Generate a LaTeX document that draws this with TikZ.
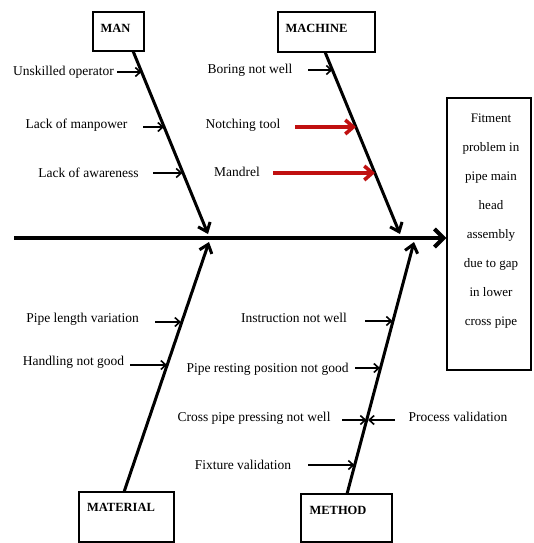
\documentclass[tikz,border=0pt]{standalone}
\usepackage{fontspec}
\setmainfont{Liberation Serif}
\usetikzlibrary{arrows.meta,calc}
\definecolor{arrowred}{RGB}{192,16,16}
\begin{document}
\begin{tikzpicture}[x=1pt,y=-1pt,
  lbl/.style={inner sep=0pt, font=\fontsize{13.5}{15}\selectfont},
  catlbl/.style={inner sep=0pt, font=\bfseries\fontsize{12.5}{14}\selectfont},
  catbox/.style={draw, line width=1.2pt, inner sep=0pt},
  spine/.style={line width=4pt, -{Straight Barb[length=9pt,width=18pt]}},
  bone/.style={line width=3pt, -{Straight Barb[length=8pt,width=13pt]}},
  sub/.style={line width=1.6pt, -{Straight Barb[length=5pt,width=9pt]}},
  redsub/.style={line width=3.6pt, draw=arrowred, -{Straight Barb[length=8pt,width=14pt]}}]
\useasboundingbox (0,0) rectangle (533,543);

% category boxes
\node[catbox, minimum width=51pt, minimum height=39pt] (man) at (118.5,31.5) {};
\node[catlbl] (manl) at (115.5,28) {MAN};
\node[catbox, minimum width=97pt, minimum height=40pt] (machine) at (326.5,32) {};
\node[catlbl] (machinel) at (316.5,28) {MACHINE};
\node[catbox, minimum width=95pt, minimum height=50pt] (material) at (126.5,517) {};
\node[catlbl] (materiall) at (121,507) {MATERIAL};
\node[catbox, minimum width=91pt, minimum height=48pt] (method) at (346.5,518) {};
\node[catlbl] (methodl) at (338,510) {METHOD};

% effect box
\node[draw, line width=1.4pt, minimum width=84pt, minimum height=272pt, inner sep=0pt] (effect) at (489,234) {};
\node[inner sep=0pt, align=center, font=\fontsize{13}{29}\selectfont] (effectl) at (491,221)
  {Fitment\\problem in\\pipe main\\head\\assembly\\due to gap\\in lower\\cross pipe};

% spine
\coordinate (tail) at (14,238);
\draw[spine] (tail) -- (tail -| effect.west);

% bones
\coordinate (manb) at (133,51);
\coordinate (mant) at (208,234);
\coordinate (machb) at (325,52);
\coordinate (macht) at (400,234);
\coordinate (matb) at (124,492);
\coordinate (matt) at (209,242);
\coordinate (methb) at (347,494);
\coordinate (metht) at (414,242);
\draw[bone] (manb) -- (mant);
\draw[bone] (machb) -- (macht);
\draw[bone] (matb) -- (matt);
\draw[bone] (methb) -- (metht);

% MAN causes
\node[lbl] (m1) at (63.5,72) {Unskilled operator};
\node[lbl] (m2) at (76.5,125) {Lack of manpower};
\node[lbl] (m3) at (88.5,173) {Lack of awareness};
\coordinate (m1s) at (117,72);  \coordinate (m1t) at (141.5,72);
\coordinate (m2s) at (143,127); \coordinate (m2t) at (164,127);
\coordinate (m3s) at (153,173); \coordinate (m3t) at (182.4,173);
\draw[sub] (m1s) -- (m1t);
\draw[sub] (m2s) -- (m2t);
\draw[sub] (m3s) -- (m3t);

% MACHINE causes
\node[lbl] (c1) at (250,70) {Boring not well};
\node[lbl] (c2) at (243,125) {Notching tool};
\node[lbl] (c3) at (237,172) {Mandrel};
\coordinate (c1s) at (308,70);  \coordinate (c1t) at (332.5,70);
\coordinate (c2s) at (295,127); \coordinate (c2t) at (356,127);
\coordinate (c3s) at (273,173); \coordinate (c3t) at (375,173);
\draw[sub] (c1s) -- (c1t);
\draw[redsub] (c2s) -- (c2t);
\draw[redsub] (c3s) -- (c3t);

% MATERIAL causes
\node[lbl] (t1) at (82.5,319) {Pipe length variation};
\node[lbl] (t2) at (73.5,362) {Handling not good};
\coordinate (t1s) at (155,322); \coordinate (t1t) at (181,322);
\coordinate (t2s) at (130,365); \coordinate (t2t) at (167,365);
\draw[sub] (t1s) -- (t1t);
\draw[sub] (t2s) -- (t2t);

% METHOD causes
\node[lbl] (h1) at (294,318) {Instruction not well};
\node[lbl] (h2) at (267.5,369) {Pipe resting position not good};
\node[lbl] (h3) at (254,418) {Cross pipe pressing not well};
\node[lbl] (h4) at (243,465) {Fixture validation};
\node[lbl] (h5) at (458,417) {Process validation};
\coordinate (h1s) at (365,321); \coordinate (h1t) at (392.5,321);
\coordinate (h2s) at (355,368); \coordinate (h2t) at (380,368);
\coordinate (h3s) at (342,420); \coordinate (h3t) at (366.5,420);
\coordinate (h4s) at (308,465); \coordinate (h4t) at (354.5,465);
\coordinate (h5s) at (395,420); \coordinate (h5t) at (368,420);
\draw[sub] (h1s) -- (h1t);
\draw[sub] (h2s) -- (h2t);
\draw[sub] (h3s) -- (h3t);
\draw[sub] (h4s) -- (h4t);
\draw[sub] (h5s) -- (h5t);
\end{tikzpicture}
\end{document}
